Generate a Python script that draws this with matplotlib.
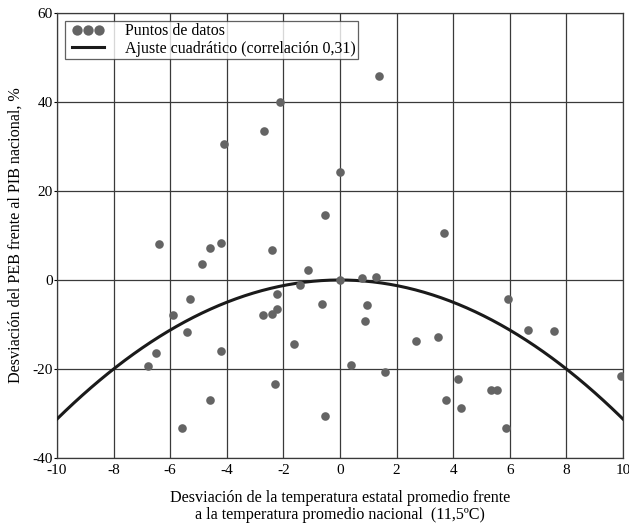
import matplotlib
matplotlib.use('Agg')
import matplotlib.pyplot as plt
from matplotlib.legend_handler import HandlerLine2D
import numpy as np

plt.rcParams['font.family'] = ['Liberation Serif', 'DejaVu Serif']
plt.rcParams['axes.unicode_minus'] = False

# temperature deviation (deg C) vs GDP deviation (%)
temp_dev = [-2.12, -2.69, -4.10, 0.00, -0.52, -6.40, -4.60, -4.20, -4.89, -2.41,
            -1.12, -1.41, -2.21, 0.00, -5.30, -0.62, 1.37, 3.66, 0.78, 1.28,
            5.95, 0.97, -5.89, -2.72, -2.41, -2.21, -5.41, -6.49, -6.79, -4.20,
            -1.61, 0.38, -2.30, -4.60, -5.58, -0.52, 0.88, 6.64, 7.55, 2.67,
            3.47, 1.59, 4.18, 9.94, 5.33, 5.56, 3.76, 4.26, 5.86]
gdp_dev = [40.0, 33.5, 30.5, 24.2, 14.5, 8.1, 7.3, 8.3, 3.7, 6.7,
           2.3, -1.1, -3.2, 0.1, -4.2, -5.5, 45.8, 10.6, 0.45, 0.67,
           -4.2, -5.6, -7.9, -7.9, -7.7, -6.6, -11.7, -16.3, -19.4, -15.9,
           -14.4, -19.0, -23.3, -26.9, -33.2, -30.6, -9.2, -11.3, -11.5, -13.6,
           -12.8, -20.6, -22.3, -21.5, -24.8, -24.8, -27.0, -28.8, -33.2]

# quadratic fit coefficients (a, b, c)
fit_coef = [-0.3125, 0.0, 0.0]

xticks = [-10, -8, -6, -4, -2, 0, 2, 4, 6, 8, 10]
yticks = [-40, -20, 0, 20, 40, 60]

fig = plt.figure(figsize=(6.29, 5.24), dpi=100)
ax = fig.add_axes([57/629, 1 - 458/524, 566/629, 445/524])

xs = np.linspace(-10, 10, 200)
fit_line, = ax.plot(xs, np.polyval(fit_coef, xs), color='#1a1a1a', lw=2.2, zorder=3)
pts, = ax.plot(temp_dev, gdp_dev, 'o', color='#646464', ms=6.2, mew=0, zorder=4)

ax.set_xlim(-10, 10)
ax.set_ylim(-40, 60)
ax.set_xticks(xticks)
ax.set_yticks(yticks)
ax.tick_params(axis='x', length=0, labelsize=11, pad=4)
ax.tick_params(axis='y', length=2, width=0.8, labelsize=11, pad=1)
ax.grid(True, color='#3a3a3a', lw=0.9)
ax.set_axisbelow(True)
for s in ax.spines.values():
    s.set_color('#3a3a3a')
    s.set_linewidth(0.9)

ax.set_ylabel('Desviación del PEB frente al PIB nacional, %', fontsize=11.6, labelpad=6)
ax.set_xlabel('Desviación de la temperatura estatal promedio frente\n'
              'a la temperatura promedio nacional  (11,5ºC)', fontsize=11.6,
              labelpad=9.5, linespacing=1.1)

leg = ax.legend([pts, fit_line],
                ['Puntos de datos', 'Ajuste cuadrático (correlación 0,31)'],
                loc='upper left', numpoints=3, markerscale=1.2,
                handler_map={pts: HandlerLine2D(marker_pad=0.62)},
                fontsize=11.5, frameon=True, fancybox=False, borderpad=0.15,
                handlelength=2.6, handletextpad=1.0, labelspacing=0.1,
                borderaxespad=0.5, bbox_to_anchor=(0.0, 1.0))
leg.get_frame().set_edgecolor('#3a3a3a')
leg.get_frame().set_linewidth(0.9)

plt.savefig('out.png', dpi=100)
